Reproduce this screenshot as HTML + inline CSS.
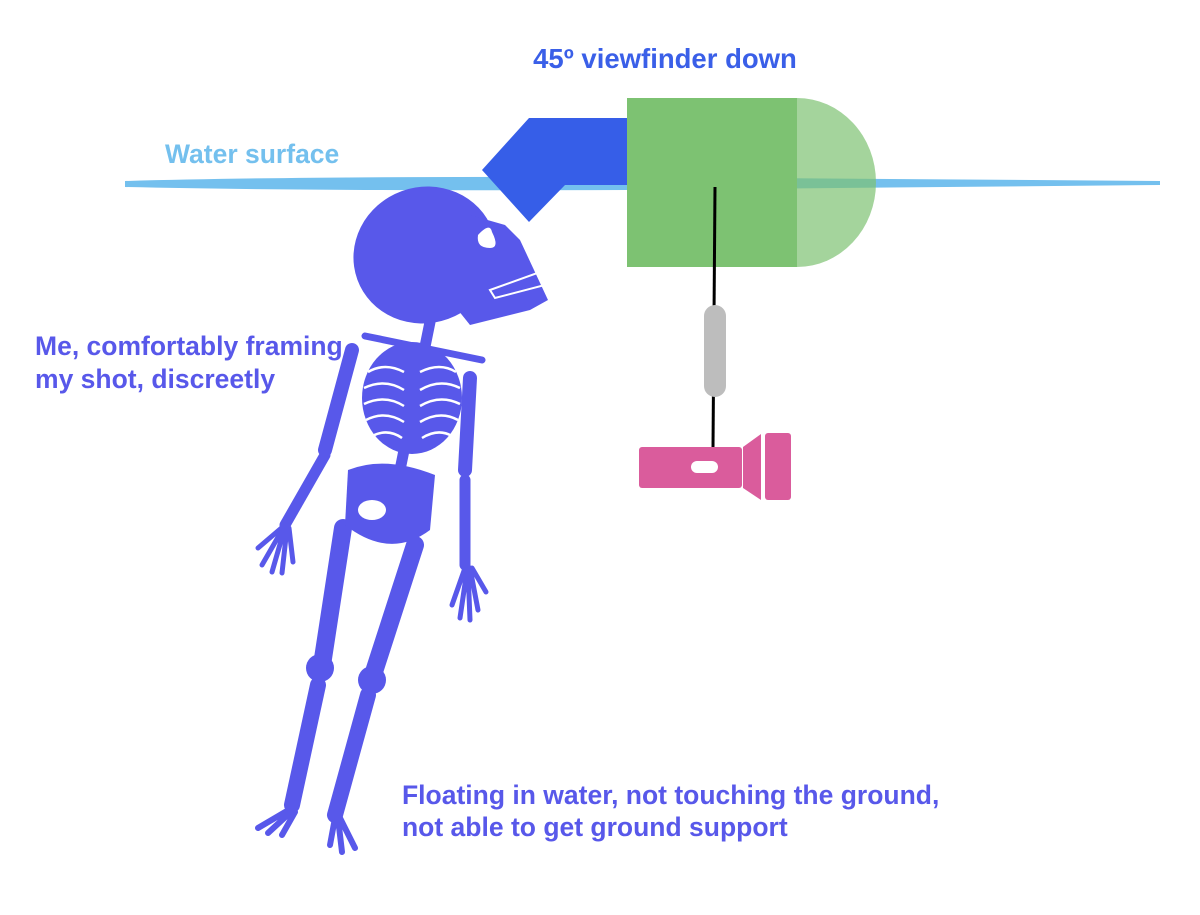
<!DOCTYPE html>
<html><head><meta charset="utf-8"><style>
html,body{margin:0;padding:0;background:#fff;width:1200px;height:915px;overflow:hidden}
svg{display:block}
text{font-family:"Liberation Sans",sans-serif;font-weight:bold}
</style></head><body>
<svg width="1200" height="915" viewBox="0 0 1200 915" xmlns="http://www.w3.org/2000/svg">
<text x="665" y="68" font-size="27.5" fill="#3a5fe8" text-anchor="middle">45º viewfinder down</text>
<text x="165" y="163" font-size="26.5" fill="#74c0ee">Water surface</text>
<text x="35" y="355" font-size="26.5" fill="#5858ea">Me, comfortably framing</text>
<text x="35" y="388" font-size="26.5" fill="#5858ea">my shot, discreetly</text>
<text x="402" y="804" font-size="26.5" fill="#5858ea">Floating in water, not touching the ground,</text>
<text x="402" y="836" font-size="26.5" fill="#5858ea">not able to get ground support</text>
<!-- water -->
<path d="M125,181 Q300,176 627,177 L1160,181 L1160,185 L627,190 Q300,191 125,187 Z" fill="#74c0ee"/>
<!-- viewfinder -->
<polygon points="627,118 529,118 482,170 529,222 565,185 627,185" fill="#365ee8"/>
<!-- camera -->
<rect x="627" y="98" width="170" height="169" fill="#7dc272"/>
<path d="M797,98 A79,84.5 0 0 1 797,267 Z" fill="#7dc272" fill-opacity="0.7"/>
<line x1="715" y1="187" x2="713" y2="448" stroke="#000" stroke-width="3"/>
<rect x="704" y="305" width="22" height="92" rx="11" fill="#bdbdbd"/>
<!-- flashlight -->
<rect x="639" y="447" width="103" height="41" rx="3" fill="#da5c9c"/>
<rect x="691" y="461" width="27" height="12" rx="6" fill="#fff"/>
<polygon points="743,447 761,434 761,500 743,488" fill="#da5c9c"/>
<rect x="765" y="433" width="26" height="67" rx="3" fill="#da5c9c"/>
<!-- skeleton -->
<g fill="#5858ea" stroke="#5858ea" stroke-linecap="round">
<ellipse cx="425" cy="255" rx="72" ry="68" transform="rotate(-20 425 255)" stroke="none"/>
<polygon points="470,215 505,225 520,240 548,300 530,310 470,325 450,300" stroke="none"/>
<line x1="430" y1="322" x2="400" y2="470" stroke-width="11"/>
<line x1="365" y1="336" x2="482" y2="360" stroke-width="7"/>
<ellipse cx="412" cy="398" rx="50" ry="56" stroke="none"/>
<line x1="352" y1="350" x2="325" y2="450" stroke-width="14"/>
<line x1="325" y1="455" x2="285" y2="525" stroke-width="11"/>
<path d="M285,525 L258,548 M285,525 L262,565 M285,527 L272,572 M287,528 L282,573 M289,528 L293,562" stroke-width="5" fill="none"/>
<line x1="470" y1="378" x2="465" y2="470" stroke-width="14"/>
<line x1="465" y1="480" x2="465" y2="565" stroke-width="11"/>
<path d="M465,568 L452,605 M467,570 L460,618 M468,570 L470,620 M470,568 L478,610 M472,568 L486,592" stroke-width="5" fill="none"/>
<line x1="343" y1="528" x2="322" y2="665" stroke-width="18"/>
<line x1="415" y1="545" x2="372" y2="678" stroke-width="18"/>
<circle cx="320" cy="668" r="14" stroke="none"/>
<circle cx="372" cy="680" r="14" stroke="none"/>
<line x1="318" y1="685" x2="292" y2="805" stroke-width="16"/>
<line x1="368" y1="695" x2="335" y2="815" stroke-width="16"/>
<path d="M292,808 L258,828 M293,810 L268,833 M295,812 L282,835" stroke-width="6" fill="none"/>
<path d="M335,818 L330,845 M338,818 L342,852 M340,818 L355,848" stroke-width="6" fill="none"/>
<path d="M348,470 Q385,455 435,475 L430,530 Q390,560 345,525 Z" stroke="none"/>
</g>
<g fill="none" stroke="#fff" stroke-width="2.5">
<path d="M368,372 Q385,362 404,372 M364,388 Q385,378 404,390 M364,404 Q385,394 404,406 M366,420 Q385,410 404,422 M372,436 Q388,428 402,438"/>
<path d="M420,372 Q440,362 456,372 M420,390 Q440,378 460,388 M420,406 Q440,394 460,404 M420,422 Q440,410 458,420 M422,438 Q438,428 452,436"/>
</g>
<g fill="#fff">
<path d="M478,235 Q490,222 492,232 Q500,248 490,248 Q476,248 478,235 Z"/>
<path d="M490,290 L540,272 L545,285 L495,298 Z" fill="none" stroke="#fff" stroke-width="2"/>
<ellipse cx="372" cy="510" rx="14" ry="10"/>
</g>
</svg>
</body></html>
